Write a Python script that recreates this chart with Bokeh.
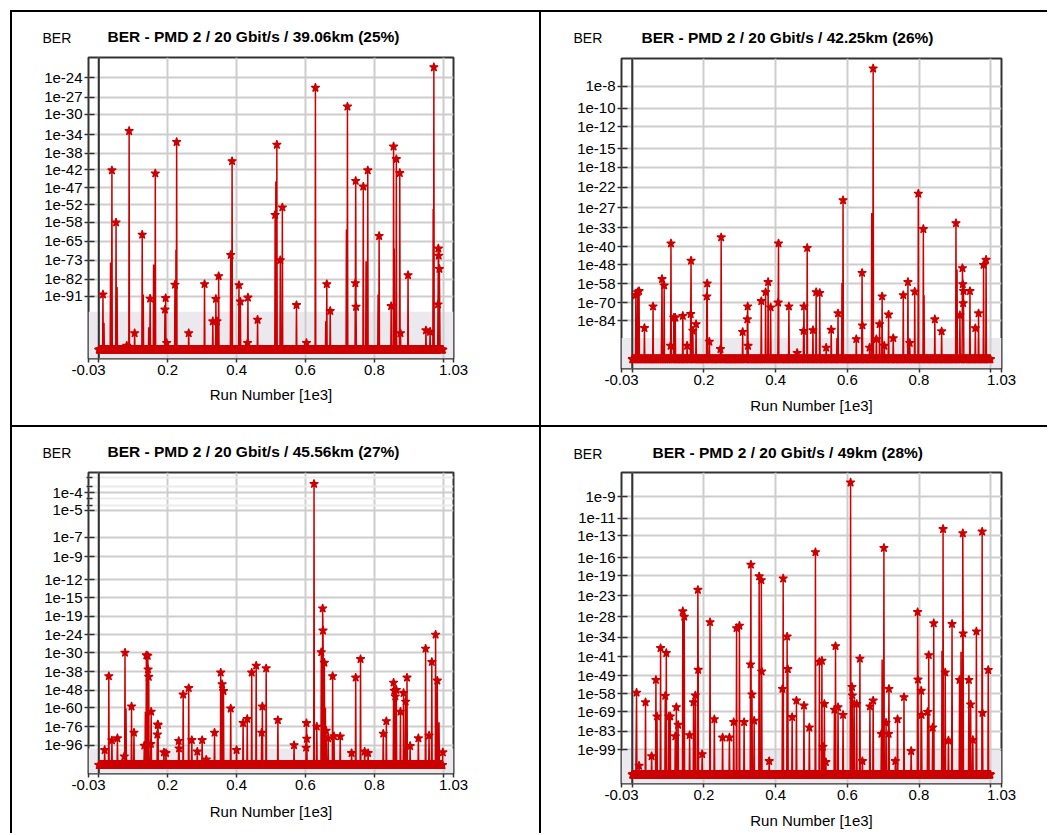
import numpy as np
from bokeh.plotting import figure
from bokeh.models import FixedTicker, Span, BoxAnnotation
from bokeh.core.properties import value
from bokeh.layouts import row, column
from bokeh.embed import file_html
from bokeh.resources import INLINE

RED = "#cc0000"
FONT = "Liberation Sans"
N_RUNS = 1000

titles = [
    "BER - PMD 2 / 20 Gbit/s / 39.06km (25%)",
    "BER - PMD 2 / 20 Gbit/s / 42.25km (26%)",
    "BER - PMD 2 / 20 Gbit/s / 45.56km (27%)",
    "BER - PMD 2 / 20 Gbit/s / 49km (28%)",
]
y_name = "BER"
x_name = "Run Number [1e3]"

# y tick labels, BER = 1e-N  (axis is log of -log10(BER))
ticks_1 = [24, 27, 30, 34, 38, 42, 47, 52, 58, 65, 73, 82, 91]
ticks_2 = [8, 10, 12, 15, 18, 22, 27, 33, 40, 48, 58, 70, 84]
ticks_3 = [4, 5, 7, 9, 12, 15, 19, 24, 30, 38, 48, 60, 76, 96]
ticks_4 = [9, 11, 13, 16, 19, 23, 28, 34, 41, 49, 58, 69, 83, 99]
minor_ber_3 = [5e-4, 2e-4, 5e-5, 2e-5]

x_tick_values = [-0.03, 0.2, 0.4, 0.6, 0.8, 1.03]
x_grid_values = [0.0, 0.2, 0.4, 0.6, 0.8, 1.0]

# runs with BER == 0 are drawn at this exponent (bottom of each chart)
zero_ber_exp = [126, 123.5, 123, 125]
shade_exp = 100          # shaded zone: BER below 1e-100
view_top_exp = [21.2, 6.06, 3.11, 7.14]
view_bottom_exp = [133, 135.6, 137, 136]

# ---- panel 1 : run number, -log10(BER) ----
p1_runs = [12, 38, 50, 81, 88, 104, 126, 149, 164, 192, 194, 197, 221, 226, 261, 307,
           331, 340, 343, 348, 383, 387, 407, 411, 432, 433, 461, 512, 517, 527, 533,
           574, 603, 629, 662, 672, 722, 745, 746, 747, 768, 781, 814, 849, 856, 864,
           874, 876, 898, 950, 962, 973, 985, 986, 987, 989]
p1_exp = [90, 42.2, 58, 123, 33.2, 114, 62.5, 92.3, 43, 98.7, 92, 121, 84.8, 35.5, 114, 84.5,
          106, 92.5, 106, 80.5, 70.7, 39.9, 85, 94, 121, 91.7, 105, 55.4, 36.1, 73, 52.9,
          96, 121, 25.5, 84.5, 99.5, 28.6, 84, 45, 97, 46.6, 42.2, 63, 96.6, 36.5, 39.4,
          42.9, 114, 80, 112, 113, 22.5, 95.6, 68, 71, 77]
p1_plain_runs = [15, 34, 53, 129, 145, 159, 224, 514, 659, 719, 776, 811, 858, 971, 990]
p1_plain_exp = [107, 74, 86, 90, 110, 75, 68.5, 45.2, 106, 60.5, 73.5, 90, 68, 53.4, 99]

# ---- panel 2 ----
p2_runs = [10, 15, 19, 34, 58, 83, 89, 107, 108, 116, 120, 141, 153, 163, 164, 169, 178,
           208, 209, 215, 246, 248, 308, 321, 322, 323, 360, 372, 379, 386, 407, 408,
           437, 460, 478, 479, 488, 504, 513, 523, 541, 555, 574, 588, 625, 641, 642,
           662, 672, 681, 690, 697, 703, 715, 728, 756, 769, 774, 788, 798, 812, 844,
           863, 903, 914, 921, 922, 923, 924, 942, 957, 966, 980, 987]
p2_exp = [64.9, 63.1, 62.4, 90.4, 72.8, 55.3, 59, 108, 38.7, 81.4, 81.4, 80, 108, 78.6, 46,
          92.9, 87, 65.8, 57.8, 103.7, 111.6, 36.4, 94, 82.8, 72.8, 108, 69, 63.1, 57, 73.5,
          70, 38.7, 72.8, 116, 93, 72.8, 40.5, 92.3, 63.1, 63.6, 110, 92, 78, 25.1, 101, 52,
          88, 110, 6.7, 101, 87, 65.8, 108, 79, 100, 65, 57, 105, 62.7, 23.5, 33.5, 82.8,
          93.4, 31.6, 79.5, 49.6, 58.2, 70.4, 62.3, 62.4, 90.5, 78, 48, 45.6]
p2_plain_runs = [82, 571, 585, 668, 814, 906]
p2_plain_exp = [84, 100, 57.5, 28.5, 65, 50.3]

# ---- panel 3 ----
p3_runs = [17, 29, 38, 54, 74, 76, 95, 102, 132, 138, 142, 143, 145, 151, 152, 170, 171,
           172, 189, 195, 232, 233, 245, 261, 270, 286, 300, 312, 336, 354, 358, 362,
           383, 400, 419, 431, 444, 457, 473, 475, 486, 520, 567, 602, 603, 604, 625,
           633, 646, 650, 651, 655, 660, 666, 679, 683, 701, 734, 746, 760, 772, 782,
           826, 835, 856, 858, 861, 864, 876, 885, 891, 895, 904, 928, 949, 959, 967,
           978, 983, 999]
p3_exp = [102, 40.3, 90.3, 88, 110.5, 30, 59, 82, 96.5, 31, 31.2, 37, 40.6, 94.5, 63, 84,
          74, 74.5, 105, 106, 91, 100, 50.8, 46.8, 90, 104, 90, 115, 82, 38.5, 44.6, 48.6,
          60.5, 102, 72.6, 69, 38.5, 35.3, 82, 59, 36.5, 70, 96, 99, 72.7, 88.5, 3.59,
          76, 29.8, 17.2, 22.7, 34, 80, 88, 40.3, 85.7, 86, 106, 41, 32.5, 104, 106,
          83, 71, 43.7, 48.4, 52, 47.9, 63, 49.8, 55.5, 41, 97, 88, 28.5, 85, 33.7,
          23.9, 42.6, 105]
p3_plain_runs = [79, 135, 652, 658, 988]
p3_plain_exp = [60.5, 63, 40, 60, 72]

# ---- panel 4 ----
p4_runs = [12, 19, 37, 54, 66, 69, 79, 92, 95, 102, 106, 120, 123, 128, 141, 145, 160, 171,
           176, 183, 184, 195, 217, 229, 252, 271, 283, 291, 299, 312, 330, 331, 334, 340,
           354, 360, 361, 382, 419, 421, 432, 434, 446, 458, 479, 494, 511, 522, 529, 532,
           536, 540, 564, 567, 574, 588, 609, 613, 614, 619, 626, 635, 642, 663, 672, 695,
           702, 708, 715, 716, 734, 740, 758, 778, 796, 797, 806, 807, 824, 827, 838, 841,
           867, 873, 882, 892, 913, 922, 923, 939, 944, 950, 960, 976, 977, 993]
p4_exp = [57.5, 115, 63, 105, 51, 72, 37.7, 59.3, 39.5, 72, 72, 87, 66, 78, 26.6, 28, 86, 63,
          59, 21.7, 46.3, 103, 29.5, 74, 88, 88, 76, 31.2, 30.5, 76, 44, 17.1, 58.5, 75,
          19.1, 19.8, 47, 110, 55.5, 19.5, 33.8, 46, 72.5, 62, 65, 80, 15.2, 43, 42.5, 96,
          64, 111, 67.6, 37, 66, 71, 7.85, 54.5, 59, 64, 64, 41.7, 110, 65.5, 62, 85,
          14.6, 76.5, 85, 55.5, 110, 74, 60, 100, 26.8, 50.8, 56.5, 71, 69, 40.3, 80, 29.8,
          12.2, 47.5, 90.5, 30, 51, 12.7, 32.8, 51, 64.3, 90, 32.2, 12.5, 69.7, 46.4]
p4_plain_runs = [11, 697, 864, 917]
p4_plain_exp = [84, 42, 38.7, 39]


def to_y(exp):
    return -np.log(np.asarray(exp, dtype=float))


def no_align(fig):
    if "frame_align" in fig.properties():
        fig.frame_align = False


def make_header(i, width, height, ber_x, ber_y, title_x, title_y):
    h = figure(width=width, height=height, output_backend="svg", toolbar_location=None,
               x_range=(0, width), y_range=(height, 0), x_axis_type=None, y_axis_type=None,
               min_border=0, title_location=None,
               background_fill_color="white", border_fill_color="white")
    h.outline_line_color = None
    h.min_border_left = 0
    h.min_border_right = 0
    h.min_border_top = 0
    h.min_border_bottom = 0
    no_align(h)
    h.text(x=[ber_x], y=[ber_y], text=[y_name], text_font=value(FONT),
           text_font_size="14px", text_color="black", text_align="left",
           text_baseline="middle")
    h.text(x=[title_x], y=[title_y], text=[titles[i]], text_font=value(FONT),
           text_font_size="15.5px", text_font_style="bold", text_color="black",
           text_align="left", text_baseline="middle")
    return h


def make_panel(i, ticks, runs, exps, plain_runs, plain_exps, minor_ber,
               width, height, borders, xlabel_standoff):
    p = figure(width=width, height=height, output_backend="svg", toolbar_location=None,
               x_range=(-0.03, 1.03), title_location=None,
               y_range=(float(to_y(view_bottom_exp[i])), float(to_y(view_top_exp[i]))),
               min_border_left=borders[0], min_border_right=borders[1],
               min_border_top=borders[2], min_border_bottom=borders[3],
               background_fill_color="white", border_fill_color="white")
    no_align(p)

    # series: every run, zero BER drawn at the floor
    e = np.full(N_RUNS, float(zero_ber_exp[i]))
    for r, v in zip(plain_runs, plain_exps):
        e[r] = v
    for r, v in zip(runs, exps):
        e[r] = v
    x = np.arange(N_RUNS) / 1000.0
    y = to_y(e)
    marked = np.ones(N_RUNS, dtype=bool)
    marked[plain_runs] = False

    shade = BoxAnnotation(top=float(to_y(shade_exp)), fill_color="#ebe9ee", fill_alpha=1.0,
                          line_color=None, level="image")
    p.add_layout(shade)

    p.line(x, y, line_color=RED, line_width=1.5)
    p.scatter(x[marked], y[marked], marker="star", size=9, fill_color=RED,
              line_color=RED, line_width=1.2)

    # grid
    p.xgrid.ticker = FixedTicker(ticks=x_grid_values)
    p.xgrid.grid_line_color = "#cdcdcd"
    p.xgrid.grid_line_width = 2
    ymajor = [float(v) for v in to_y(ticks)]
    yminor = [float(v) for v in to_y(-np.log10(minor_ber))] if minor_ber else []
    yt = FixedTicker(ticks=ymajor, minor_ticks=yminor)
    p.yaxis.ticker = yt
    p.ygrid.ticker = yt
    p.ygrid.grid_line_color = "#cdcdcd"
    p.ygrid.grid_line_width = 2
    if minor_ber:
        p.ygrid.minor_grid_line_color = "#ebebeb"
        p.ygrid.minor_grid_line_width = 2
    p.add_layout(Span(location=0, dimension="height", line_color="#333333",
                      line_width=2, level="underlay"))

    p.outline_line_color = "#333333"
    p.outline_line_width = 2

    # x axis
    xa = p.xaxis[0]
    xa.ticker = FixedTicker(ticks=x_tick_values, minor_ticks=[0.0, 1.0])
    xa.major_label_overrides = {v: ("%g" % v) for v in x_tick_values}
    xa.axis_line_color = None
    xa.major_tick_in = 0
    xa.major_tick_out = 4
    xa.minor_tick_in = 0
    xa.minor_tick_out = 4
    xa.major_tick_line_color = "#333333"
    xa.minor_tick_line_color = "#333333"
    xa.major_tick_line_width = 1.5
    xa.minor_tick_line_width = 1.5
    xa.major_label_standoff = 2
    xa.major_label_text_font = FONT
    xa.major_label_text_font_size = "15px"
    xa.major_label_text_color = "black"
    xa.axis_label = x_name
    xa.axis_label_text_font = FONT
    xa.axis_label_text_font_size = "15px"
    xa.axis_label_text_font_style = "normal"
    xa.axis_label_text_color = "black"
    xa.axis_label_standoff = xlabel_standoff

    # y axis
    ya = p.yaxis[0]
    ya.major_label_overrides = {float(t): "1e-%d" % n for t, n in zip(to_y(ticks), ticks)}
    ya.axis_line_color = None
    ya.major_tick_in = 6
    ya.major_tick_out = 4
    ya.minor_tick_in = 4 if minor_ber else 0
    ya.minor_tick_out = 2 if minor_ber else 0
    ya.major_tick_line_color = "#333333"
    ya.minor_tick_line_color = "#333333"
    ya.major_tick_line_width = 1.5
    ya.minor_tick_line_width = 1.5
    ya.major_label_standoff = 2
    ya.major_label_text_font = FONT
    ya.major_label_text_font_size = "15px"
    ya.major_label_text_color = "black"
    return p


h1 = make_header(0, 527, 42, 30, 25.3, 95, 24)
p1 = make_panel(0, ticks_1, p1_runs, p1_exp, p1_plain_runs, p1_plain_exp, None,
                527, 371, (76, 86, 3, 67), 8)
h2 = make_header(1, 506, 43, 32, 25.3, 100, 24.7)
p2 = make_panel(1, ticks_2, p2_runs, p2_exp, p2_plain_runs, p2_plain_exp, None,
                506, 370, (80, 46, 3, 57), 9)
h3 = make_header(2, 527, 42, 30, 25.3, 95, 24)
p3 = make_panel(2, ticks_3, p3_runs, p3_exp, p3_plain_runs, p3_plain_exp, minor_ber_3,
                527, 364, (76, 86, 3, 60), 10)
h4 = make_header(3, 506, 42, 32, 26.3, 111, 25)
p4 = make_panel(3, ticks_4, p4_runs, p4_exp, p4_plain_runs, p4_plain_exp, None,
                506, 364, (80, 46, 3, 50), 9)

WHITE = {"background-color": "#ffffff"}
layout = column(
    row(column(h1, p1, spacing=0, styles=WHITE), column(h2, p2, spacing=0, styles=WHITE),
        spacing=2),
    row(column(h3, p3, spacing=0, styles=WHITE), column(h4, p4, spacing=0, styles=WHITE),
        spacing=2),
    spacing=2,
    styles={"background-color": "#000000", "padding": "2px 0px 0px 2px",
            "margin": "10px 0px 0px 10px"})

open("out.html", "w").write(file_html(layout, INLINE, "BER"))
